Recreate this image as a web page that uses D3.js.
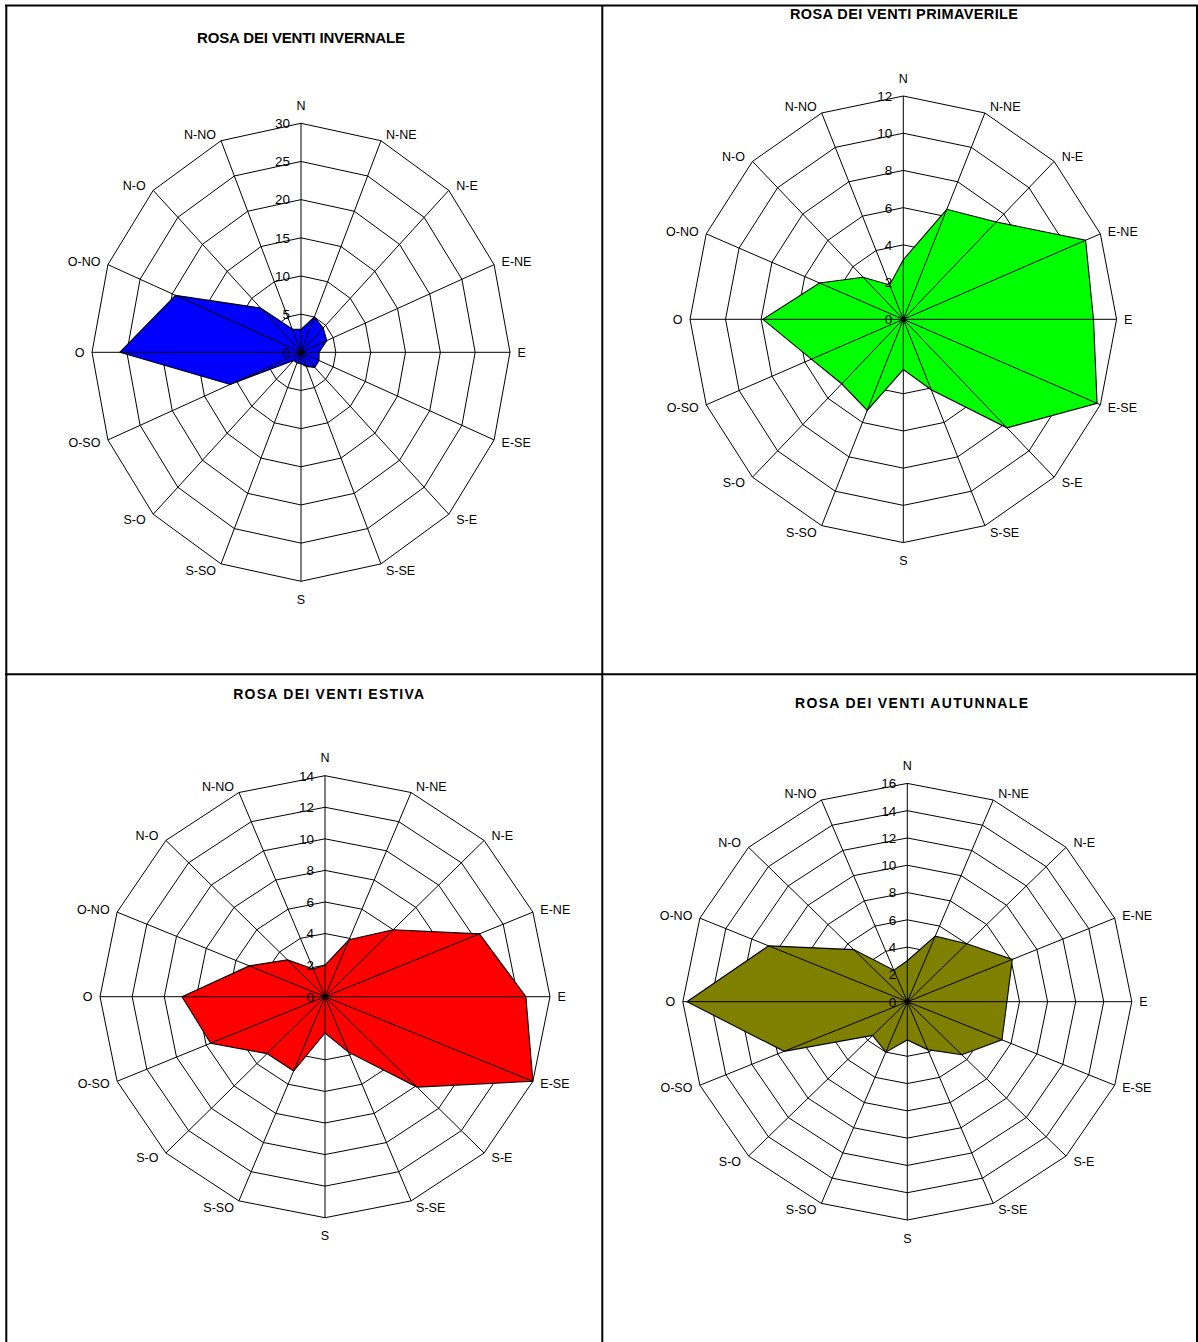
<!DOCTYPE html>
<html><head><meta charset="utf-8">
<script src="https://cdn.jsdelivr.net/npm/d3@7"></script>
<style>
body{margin:0;background:#fff}
svg{display:block}
text{font-family:"Liberation Sans",Arial,Helvetica,sans-serif;fill:#000}
</style>
</head><body>
<svg id="c" width="1198" height="1342"></svg>
<script>
// ---- DATA ----
const directions = ["N","N-NE","N-E","E-NE","E","E-SE","S-E","S-SE","S","S-SO","S-O","O-SO","O","O-NO","N-O","N-NO"];
const winterValues = [3, 5, 4.5, 4, 2.6, 2.8, 2.8, 2, 1.5, 1.5, 1.5, 11, 26, 19.5, 8.2, 3.3];
const springValues = [3.2, 6.4, 7.4, 11.1, 10.7, 11.8, 8.25, 4.1, 2.7, 5.3, 4.9, 5.6, 7.9, 5.1, 3.2, 2.0];
const summerValues = [2, 3.9, 6, 10.4, 12.5, 14, 8.1, 3.8, 2.3, 5.1, 5.1, 7.7, 8.9, 5.1, 3.3, 1.9];
const autumnValues = [3, 5.2, 6, 8.1, 7.1, 7.3, 5.5, 3.8, 2.8, 4, 3.5, 9.5, 15.7, 10.7, 5.4, 2.5];
const winterTicks = [0, 5, 10, 15, 20, 25, 30];
const springTicks = [0, 2, 4, 6, 8, 10, 12];
const summerTicks = [0, 2, 4, 6, 8, 10, 12, 14];
const autumnTicks = [0, 2, 4, 6, 8, 10, 12, 14, 16];
const titles = ["ROSA DEI VENTI INVERNALE", "ROSA DEI VENTI PRIMAVERILE", "ROSA DEI VENTI ESTIVA", "ROSA DEI VENTI AUTUNNALE"];
const fillColors = ["#0000ff", "#00ff00", "#ff0000", "#808000"];

// ---- LAYOUT ----
const layouts = [
  {cx: 301,   cy: 352.3,  rx: 209,   ry: 229,   tx: 301,   ty: 42.7, ts: 15,   tw: 208},
  {cx: 903.3, cy: 319.3,  rx: 213.3, ry: 223.3, tx: 904,   ty: 19.3, ts: 14.5, tw: 228},
  {cx: 325,   cy: 996.7,  rx: 225,   ry: 221,   tx: 328.7, ty: 698.5, ts: 14,  tw: 191},
  {cx: 907.3, cy: 1001.7, rx: 224.5, ry: 218.3, tx: 911.5, ty: 707.5, ts: 14,  tw: 233}
];
const seriesList = [winterValues, springValues, summerValues, autumnValues];
const tickList = [winterTicks, springTicks, summerTicks, autumnTicks];

const svg = d3.select("#c");

// table borders
const borders = svg.append("g").attr("stroke", "#000").attr("stroke-width", 2);
borders.append("line").attr("x1", 5).attr("x2", 1198).attr("y1", 5.5).attr("y2", 5.5);
borders.append("line").attr("x1", 6.3).attr("x2", 6.3).attr("y1", 5).attr("y2", 1342);
borders.append("line").attr("x1", 1197).attr("x2", 1197).attr("y1", 5).attr("y2", 1342);
borders.append("line").attr("x1", 602.3).attr("x2", 602.3).attr("y1", 5).attr("y2", 1342);
borders.append("line").attr("x1", 5).attr("x2", 1198).attr("y1", 674.3).attr("y2", 674.3);

const angle = d3.scalePoint().domain(directions).range([0, 2 * Math.PI * 15 / 16]);

layouts.forEach((L, k) => {
  const values = seriesList[k];
  const ticks = tickList[k];
  const maxV = ticks[ticks.length - 1];
  const sx = d3.scaleLinear().domain([0, maxV]).range([0, L.rx]);
  const sy = d3.scaleLinear().domain([0, maxV]).range([0, L.ry]);
  const px = (d, v) => L.cx + sx(v) * Math.sin(angle(d));
  const py = (d, v) => L.cy - sy(v) * Math.cos(angle(d));
  const g = svg.append("g");

  // rings
  const ringLine = d3.line().x(p => p[0]).y(p => p[1]).curve(d3.curveLinearClosed);
  g.append("g").selectAll("path").data(ticks.filter(t => t > 0)).join("path")
    .attr("d", t => ringLine(directions.map(d => [px(d, t), py(d, t)])))
    .attr("fill", "none").attr("stroke", "#000").attr("stroke-width", 1);

  // data polygon
  g.append("path")
    .attr("d", ringLine(directions.map((d, i) => [px(d, values[i]), py(d, values[i])])))
    .attr("fill", fillColors[k]).attr("stroke", "#000").attr("stroke-width", 1.1);

  // spokes
  g.append("g").selectAll("line").data(directions).join("line")
    .attr("x1", L.cx).attr("y1", L.cy)
    .attr("x2", d => px(d, maxV)).attr("y2", d => py(d, maxV))
    .attr("stroke", "#000").attr("stroke-width", 1);
  g.append("circle").attr("cx", L.cx).attr("cy", L.cy).attr("r", 2.5).attr("fill", "#000");

  // tick labels
  g.append("g").selectAll("text").data(ticks).join("text")
    .attr("x", L.cx - 11).attr("y", t => py(directions[0], t))
    .attr("dy", "0.36em").attr("text-anchor", "end").attr("font-size", 13.5)
    .text(t => t);

  // direction labels
  g.append("g").selectAll("text").data(directions).join("text")
    .attr("font-size", 12.5)
    .attr("text-anchor", d => {
      const s = Math.sin(angle(d));
      return Math.abs(s) < 0.01 ? "middle" : (s > 0 ? "start" : "end");
    })
    .attr("x", d => {
      const s = Math.sin(angle(d));
      const off = Math.abs(s) < 0.5 ? 5 : 7.5;
      return px(d, maxV) + (Math.abs(s) < 0.01 ? 0 : Math.sign(s) * off);
    })
    .attr("y", d => {
      const s = Math.sin(angle(d)), c = Math.cos(angle(d));
      return py(d, maxV) - c * (Math.abs(s) < 0.01 ? 18 : 7);
    })
    .attr("dy", "0.36em")
    .text(d => d);

  // title
  svg.append("text")
    .attr("x", L.tx).attr("y", L.ty)
    .attr("text-anchor", "middle").attr("font-weight", "bold")
    .attr("font-size", L.ts)
    .attr("textLength", L.tw).attr("lengthAdjust", "spacing")
    .text(titles[k]);
});
</script>
</body></html>
